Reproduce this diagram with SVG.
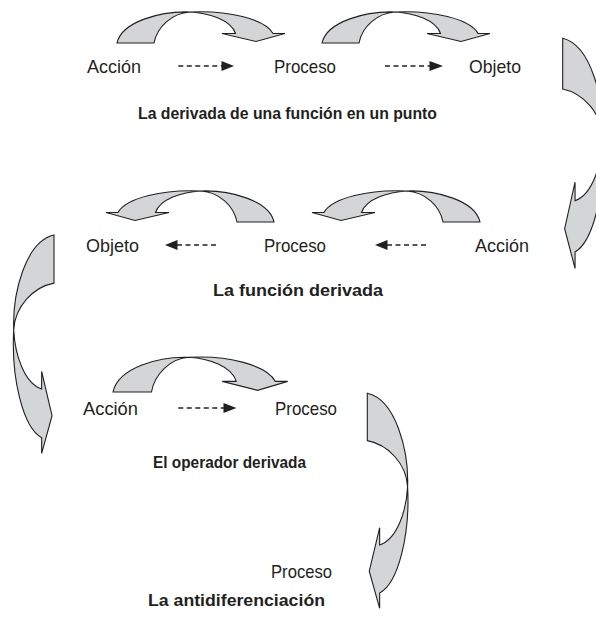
<svg xmlns="http://www.w3.org/2000/svg" xmlns:xlink="http://www.w3.org/1999/xlink" width="596" height="622" viewBox="0 0 596 622">
<style>
.lbl{font-family:"Liberation Sans",Arial,sans-serif;font-size:19px;fill:#231f20}
.ttl{font-family:"Liberation Sans",Arial,sans-serif;font-size:17px;font-weight:bold;fill:#231f20}
.ca{fill:#d4d5d6;stroke:#231f20;stroke-width:1.1;stroke-linejoin:miter;vector-effect:non-scaling-stroke}
.dash{stroke:#231f20;stroke-width:1.3;stroke-dasharray:5,3.5;fill:none}
.head{fill:#231f20}
</style>
<defs>
<path id="ca" class="ca" d="M0,0 C5,-22 45,-32 73,-31 C92,-30 114,-23 118.5,-9.5 L105,-9.5 L139,-1.5 L168,-9.5 L156,-9.5 C148,-24 110,-33 73,-31 C55,-30 40,-16 37,0 Z"/>
</defs>
<rect width="596" height="622" fill="#ffffff"/>
<g id="curved-arrows">
<use href="#ca" transform="translate(117,43)"/>
<use href="#ca" transform="translate(322,43)"/>
<use href="#ca" transform="translate(274,222) scale(-1,1)"/>
<use href="#ca" transform="translate(480,222) scale(-1,1)"/>
<use href="#ca" transform="translate(113,392) scale(1.04,1.12)"/>
<use href="#ca" transform="matrix(0,1.37,-1.3,0,562.7,38.3)"/>
<use href="#ca" transform="matrix(0,1.3,1.3,0,54,235)"/>
<use href="#ca" transform="matrix(0,1.28,-1.3,0,367.3,393.3)"/>
</g>
<g id="connectors">
<line class="dash" x1="178.3" y1="66" x2="222" y2="66"/>
<polygon class="head" points="221.5,61 234,66 221.5,71"/>
<line class="dash" x1="385" y1="66" x2="430" y2="66"/>
<polygon class="head" points="429.5,61 443,66 429.5,71"/>
<line class="dash" x1="177" y1="245" x2="219" y2="245"/>
<polygon class="head" points="177.5,240 165,245 177.5,250"/>
<line class="dash" x1="387" y1="245" x2="429" y2="245"/>
<polygon class="head" points="387.5,240 375,245 387.5,250"/>
<line class="dash" x1="178.3" y1="408" x2="224" y2="408"/>
<polygon class="head" points="223.5,403 236.5,408 223.5,413"/>
</g>
<g id="row1">
<g id="n-accion1"><text class="lbl" x="87" y="73" textLength="54" lengthAdjust="spacingAndGlyphs">Acción</text></g>
<g id="n-proceso1"><text class="lbl" x="274" y="73" textLength="62" lengthAdjust="spacingAndGlyphs">Proceso</text></g>
<g id="n-objeto1"><text class="lbl" x="469" y="73" textLength="52" lengthAdjust="spacingAndGlyphs">Objeto</text></g>
<g id="t1"><text class="ttl" x="138" y="119" textLength="299" lengthAdjust="spacingAndGlyphs">La derivada de una función en un punto</text></g>
</g>
<g id="row2">
<g id="n-objeto2"><text class="lbl" x="86" y="252" textLength="53" lengthAdjust="spacingAndGlyphs">Objeto</text></g>
<g id="n-proceso2"><text class="lbl" x="264" y="252" textLength="62" lengthAdjust="spacingAndGlyphs">Proceso</text></g>
<g id="n-accion2"><text class="lbl" x="475" y="252" textLength="54" lengthAdjust="spacingAndGlyphs">Acción</text></g>
<g id="t2"><text class="ttl" x="213" y="296" textLength="170" lengthAdjust="spacingAndGlyphs">La función derivada</text></g>
</g>
<g id="row3">
<g id="n-accion3"><text class="lbl" x="83" y="415" textLength="55" lengthAdjust="spacingAndGlyphs">Acción</text></g>
<g id="n-proceso3"><text class="lbl" x="275" y="415" textLength="62" lengthAdjust="spacingAndGlyphs">Proceso</text></g>
<g id="t3"><text class="ttl" x="153" y="468" textLength="153" lengthAdjust="spacingAndGlyphs">El operador derivada</text></g>
</g>
<g id="row4">
<g id="n-proceso4"><text class="lbl" x="271" y="578" textLength="61" lengthAdjust="spacingAndGlyphs">Proceso</text></g>
<g id="t4"><text class="ttl" x="148" y="606" textLength="177" lengthAdjust="spacingAndGlyphs">La antidiferenciación</text></g>
</g>
</svg>
